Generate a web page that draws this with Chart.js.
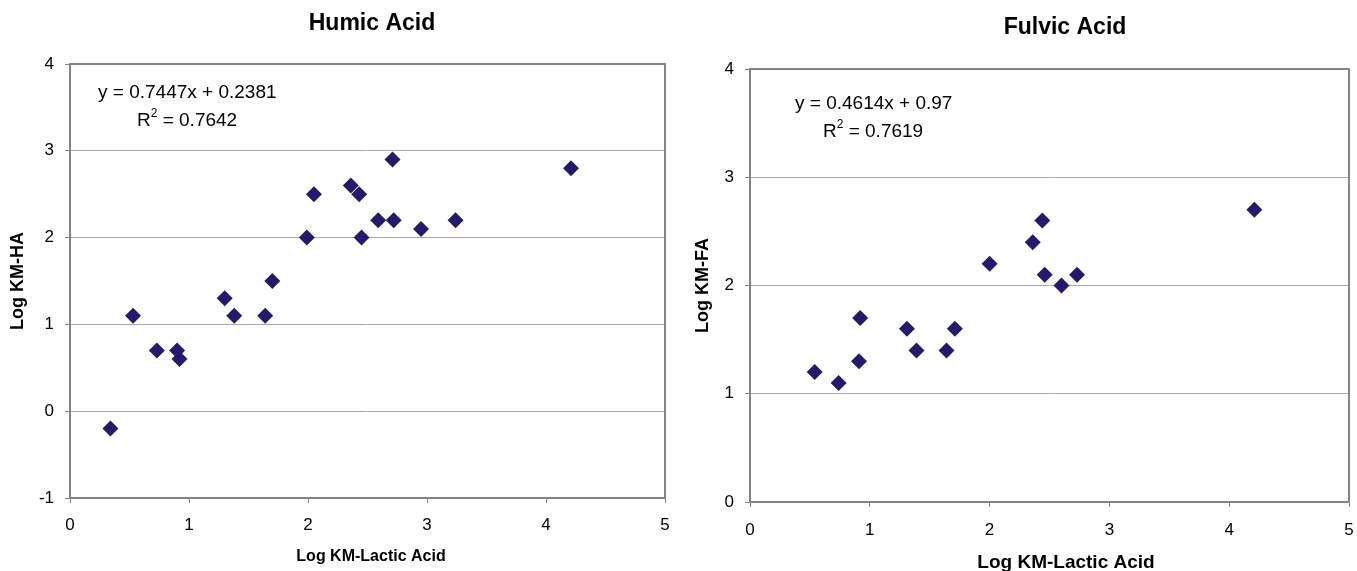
<!DOCTYPE html>
<html>
<head>
<meta charset="utf-8">
<title>Humic / Fulvic Acid vs Lactic Acid</title>
<script src="https://cdn.jsdelivr.net/npm/chart.js@4/dist/chart.umd.min.js"></script>
<style>
  html, body { margin: 0; padding: 0; background: #fff; }
  body { width: 1357px; height: 571px; position: relative; overflow: hidden; }
  .box { position: absolute; top: 0; height: 571px; }
  #boxHA { left: 0; width: 690px; }
  #boxFA { left: 690px; width: 667px; }
</style>
</head>
<body>
<div class="box" id="boxHA"><canvas id="chartHA"></canvas></div>
<div class="box" id="boxFA"><canvas id="chartFA"></canvas></div>
<script>
// Humic acid series
const lacticHA = [0.34, 0.53, 0.73, 0.90, 0.92, 1.30, 1.38, 1.64, 1.70, 1.99, 2.05, 2.36, 2.43, 2.45, 2.59, 2.72, 2.71, 2.95, 3.24, 4.21];
const logKmHA  = [-0.2, 1.1, 0.7, 0.7, 0.6, 1.3, 1.1, 1.1, 1.5, 2.0, 2.5, 2.6, 2.5, 2.0, 2.2, 2.2, 2.9, 2.1, 2.2, 2.8];
const eqHA = ['y = 0.7447x + 0.2381', '0.7642'];

// Fulvic acid series
const lacticFA = [0.54, 0.74, 0.91, 0.92, 1.31, 1.39, 1.64, 1.71, 2.00, 2.36, 2.44, 2.46, 2.60, 2.73, 4.21];
const logKmFA  = [1.2, 1.1, 1.3, 1.7, 1.6, 1.4, 1.4, 1.6, 2.2, 2.4, 2.6, 2.1, 2.0, 2.1, 2.7];
const eqFA = ['y = 0.4614x + 0.97', '0.7619'];

const xLabel = 'Log KM-Lactic Acid';

const FONT = "'Liberation Sans', Arial, sans-serif";
const MARKER = '#241a6c';
const GRID = '#a8a8a8';
const FRAME = '#858585';

// chart title, x title, frame around the plot area and the trendline equation
const framePlugin = {
  id: 'frameAndEquation',
  afterDraw(chart, args, opts) {
    const ctx = chart.ctx;
    const a = chart.chartArea;
    ctx.save();
    ctx.strokeStyle = FRAME;
    ctx.lineWidth = 2;
    ctx.strokeRect(a.left, a.top, a.right - a.left, a.bottom - a.top);

    ctx.fillStyle = '#000';
    ctx.textBaseline = 'middle';
    ctx.textAlign = 'center';
    ctx.font = 'bold 23px ' + FONT;
    ctx.fillText(opts.title, opts.titleX, opts.titleY);

    ctx.font = 'bold ' + opts.xTitleSize + 'px ' + FONT;
    ctx.fillText(xLabel, opts.xTitleX, opts.xTitleY);

    ctx.textAlign = 'left';
    ctx.font = '19px ' + FONT;
    ctx.fillText(opts.eq[0], a.left + opts.eqX, a.top + opts.eqY);

    let x = a.left + opts.rX;
    const y = a.top + opts.rY;
    ctx.fillText('R', x, y);
    x += ctx.measureText('R').width;
    ctx.font = '12px ' + FONT;
    ctx.fillText('2', x, y - 7);
    x += ctx.measureText('2').width;
    ctx.font = '19px ' + FONT;
    ctx.fillText(' = ' + opts.eq[1], x, y);
    ctx.restore();
  }
};

function makeChart(id, xs, ys, cfg) {
  const points = xs.map((x, i) => ({ x: x, y: ys[i] }));
  return new Chart(document.getElementById(id), {
    type: 'scatter',
    data: {
      datasets: [{
        data: points,
        pointStyle: 'rectRot',
        pointRadius: 8,
        pointHoverRadius: 8,
        backgroundColor: MARKER,
        borderColor: MARKER,
        borderWidth: 0
      }]
    },
    options: {
      responsive: true,
      maintainAspectRatio: false,
      animation: false,
      layout: { padding: { left: 0, right: cfg.padRight, top: cfg.padTop, bottom: 0 } },
      plugins: {
        legend: { display: false },
        tooltip: { enabled: false },
        title: { display: false },
        frameAndEquation: cfg.deco
      },
      scales: {
        x: {
          type: 'linear',
          min: 0, max: 5,
          afterFit: s => {
            s.height = cfg.xHeight;
            s.paddingLeft = 0;
            s.paddingRight = 0;
          },
          ticks: {
            stepSize: 1, color: '#000', padding: cfg.xTickPad,
            font: { family: FONT, size: 17 }
          },
          grid: { drawOnChartArea: false, drawTicks: true, tickLength: 5, tickColor: FRAME },
          border: { display: false },
          title: { display: false }
        },
        y: {
          type: 'linear',
          min: cfg.yMin, max: cfg.yMax,
          afterFit: s => { s.width = cfg.yWidth; },
          ticks: {
            stepSize: 1, color: '#000', padding: 11,
            font: { family: FONT, size: 17 }
          },
          grid: { color: GRID, lineWidth: 1, drawTicks: true, tickLength: 5, tickColor: FRAME },
          border: { display: false },
          title: {
            display: true,
            text: cfg.yTitle,
            color: '#000',
            font: { family: FONT, size: 18, weight: 'bold' },
            padding: { top: cfg.yTitlePad, bottom: 0 }
          }
        }
      }
    },
    plugins: [framePlugin]
  });
}

makeChart('chartHA', lacticHA, logKmHA, {
  padTop: 64, padRight: 25, yWidth: 70, xHeight: 73,
  yMin: -1, yMax: 4, yTitle: 'Log KM-HA',
  xTickPad: 12, yTitlePad: 7.2,
  deco: { title: 'Humic Acid', titleX: 372, titleY: 24,
          xTitleSize: 16, xTitleX: 371, xTitleY: 557,
          eq: eqHA, eqX: 28, eqY: 29, rX: 67, rY: 57 }
});

makeChart('chartFA', lacticFA, logKmFA, {
  padTop: 69, padRight: 7, yWidth: 60, xHeight: 69,
  yMin: 0, yMax: 4, yTitle: 'Log KM-FA',
  xTickPad: 13, yTitlePad: 2.2,
  deco: { title: 'Fulvic Acid', titleX: 375, titleY: 28,
          xTitleSize: 19, xTitleX: 376, xTitleY: 563,
          eq: eqFA, eqX: 45, eqY: 35, rX: 73, rY: 63 }
});
</script>
</body>
</html>
